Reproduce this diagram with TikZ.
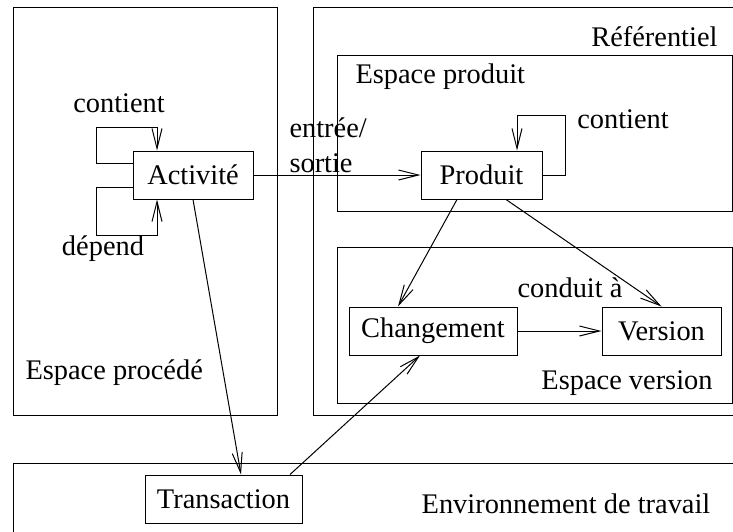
\documentclass[tikz,border=0pt]{standalone}
\usepackage{fontspec}
\setmainfont{Liberation Serif}
\usetikzlibrary{arrows.meta,calc}
\begin{document}
\begin{tikzpicture}[
      x=1pt, y=-1pt,
      font=\fontsize{28.4}{35}\selectfont,
      line width=1pt,
      region/.style={line width=1pt},
      objet/.style={draw,line width=1pt,minimum height=48pt,inner sep=0pt},
      texte/.style={inner sep=0pt},
      fleche/.style={->,>={Straight Barb[length=20pt,width=10pt]}}
    ]
    \useasboundingbox (0,0) rectangle (733,531);
    \clip (0,0) rectangle (733,531);
    % Draw the regions.
    \draw[region] (13,7)   rectangle (277,415);
    \draw[region] (313,7)  rectangle (745,415);
    \draw[region] (337,55) rectangle (732,211);
    \draw[region] (337,247) rectangle (732,403);
    \draw[region] (13,463) rectangle (745,545);
    \node[texte,anchor=west] (procede) at (25,373) {Espace procédé};
    \node[texte,anchor=east] (referentiel) at (718,37) {Référentiel};
    \node[texte,anchor=west] (espprod) at (355,77) {Espace produit};
    \node[texte] (espvers) at (627,383) {Espace version};
    \node[texte] (environ) at (566,504) {Environnement de travail};
    % Draw the objects.
    \node[objet,minimum width=120pt] (act) at (193,175) {Activité};
    \node[objet,minimum width=121pt] (prod) at (481.5,175) {Produit};
    \node[objet,minimum width=168pt] (chg) at (433,331) {Changement};
    \node[objet,minimum width=119pt] (ver) at (661.5,331) {Version};
    \node[objet,minimum width=157pt] (trans) at (223.5,499) {Transaction};
    % Draw the relations.
    \draw[fleche] ([yshift=12pt]act.west) -- ++(-36,0) -- ++(0,-36) -| ([xshift=-36pt]act.north);
    \draw[fleche] ([yshift=-12pt]act.west) -- ++(-36,0) -- ++(0,48) -| ([xshift=-36pt]act.south);
    \draw[fleche] (prod.east) -- ++(23,0) -- ++(0,-60) -| ([xshift=35.5pt]prod.north);
    \draw[fleche] (act.east) -- (prod.west);
    \draw[fleche] (act.south) -- ($(trans.north)+(17.5,0)$);
    \draw[fleche] ($(trans.north)+(66.5,0)$) -- ($(chg.south)+(-13,0)$);
    \draw[fleche] ($(prod.south)+(-24.5,0)$) -- ($(chg.north)+(-35,0)$);
    \draw[fleche] ($(prod.south)+(24.5,0)$) -- (ver.north);
    \draw[fleche] (chg.east) -- (ver.west);
    \node[texte] (contientA) at (119,103) {contient};
    \node[texte] (depend) at (103,249) {dépend};
    \node[texte] (contientP) at (623,119) {contient};
    \node[texte,align=left,anchor=north west] (entree) at (289,117) {entrée/\\sortie};
    \node[texte] (conduit) at (570,288) {conduit à};
\end{tikzpicture}
\end{document}
